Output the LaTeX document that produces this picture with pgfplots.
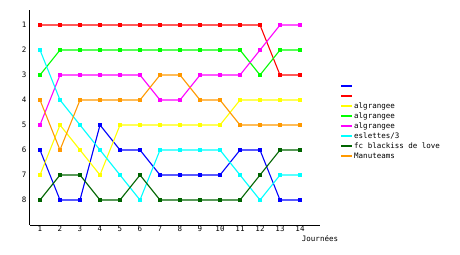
\documentclass[border=0pt]{standalone}
\usepackage{fontspec}
\setmainfont{DejaVu Sans Mono}
\usepackage{pgfplots}
\pgfplotsset{compat=1.18}
\definecolor{cblue}{RGB}{0,0,255}
\definecolor{cred}{RGB}{255,0,0}
\definecolor{cyellow}{RGB}{255,255,0}
\definecolor{cgreen}{RGB}{0,255,0}
\definecolor{cmag}{RGB}{255,0,255}
\definecolor{ccyan}{RGB}{0,255,255}
\definecolor{cdkgreen}{RGB}{0,100,0}
\definecolor{corange}{RGB}{255,153,0}
\begin{document}
\begin{tikzpicture}
\useasboundingbox (-30bp,-30bp) rectangle (430bp,225bp);
\begin{axis}[
  at={(0,0)}, anchor=south west, scale only axis,
  width=290bp, height=215bp,
  xmin=0.5, xmax=15, ymin=0.4, ymax=9, y dir=reverse,
  axis x line*=bottom, axis y line*=left,
  axis line style={-, line width=1bp},
  xtick={1,...,14}, ytick={1,...,8},
  major tick style={draw=none},
  /pgf/number format/assume math mode=true,
  tick label style={font=\fontsize{7.5bp}{9bp}\selectfont},
  xticklabel style={yshift=2.5bp},
  yticklabel style={xshift=0bp},
  xlabel={Journées},
  xlabel style={at={(axis description cs:1,0)}, anchor=center, yshift=-14bp, font=\fontsize{7.5bp}{9bp}\selectfont},
  every axis plot/.append style={line width=1.1bp, mark=square*, mark size=1.3bp},
  legend image code/.code={\draw[#1,line width=2bp] (0bp,0bp) -- (11bp,0bp);},
  legend style={at={(rel axis cs:1.069,0.67)}, anchor=north west, draw=none, fill=none,
    inner sep=0pt, row sep=0pt, column sep=0pt,
    nodes={inner sep=1bp, text height=6bp, text depth=2bp, anchor=west, font=\fontsize{7.5bp}{9bp}\selectfont}},
  legend cell align=left,
]
\addplot[cblue] coordinates {(1,6)(2,8)(3,8)(4,5)(5,6)(6,6)(7,7)(8,7)(9,7)(10,7)(11,6)(12,6)(13,8)(14,8)};
\addlegendentry{}
\addplot[cred] coordinates {(1,1)(2,1)(3,1)(4,1)(5,1)(6,1)(7,1)(8,1)(9,1)(10,1)(11,1)(12,1)(13,3)(14,3)};
\addlegendentry{}
\addplot[cyellow] coordinates {(1,7)(2,5)(3,6)(4,7)(5,5)(6,5)(7,5)(8,5)(9,5)(10,5)(11,4)(12,4)(13,4)(14,4)};
\addlegendentry{algrangee}
\addplot[cgreen] coordinates {(1,3)(2,2)(3,2)(4,2)(5,2)(6,2)(7,2)(8,2)(9,2)(10,2)(11,2)(12,3)(13,2)(14,2)};
\addlegendentry{algrangee}
\addplot[cmag] coordinates {(1,5)(2,3)(3,3)(4,3)(5,3)(6,3)(7,4)(8,4)(9,3)(10,3)(11,3)(12,2)(13,1)(14,1)};
\addlegendentry{algrangee}
\addplot[ccyan] coordinates {(1,2)(2,4)(3,5)(4,6)(5,7)(6,8)(7,6)(8,6)(9,6)(10,6)(11,7)(12,8)(13,7)(14,7)};
\addlegendentry{eslettes/3}
\addplot[cdkgreen] coordinates {(1,8)(2,7)(3,7)(4,8)(5,8)(6,7)(7,8)(8,8)(9,8)(10,8)(11,8)(12,7)(13,6)(14,6)};
\addlegendentry{fc blackiss de love}
\addplot[corange] coordinates {(1,4)(2,6)(3,4)(4,4)(5,4)(6,4)(7,3)(8,3)(9,4)(10,4)(11,5)(12,5)(13,5)(14,5)};
\addlegendentry{Manuteams}
\end{axis}
\end{tikzpicture}
\end{document}
